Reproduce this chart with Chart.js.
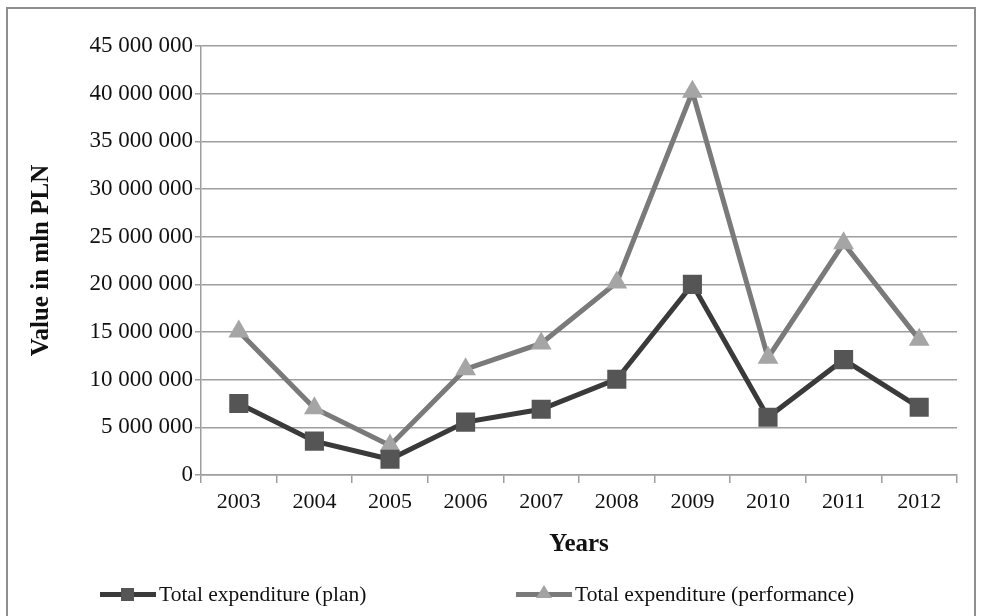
<!DOCTYPE html>
<html lang="en">
<head>
  <meta charset="UTF-8">
  <title>Total expenditure</title>
  <style>
    *{margin:0;padding:0;box-sizing:border-box;}
    body{width:981px;height:616px;background:#fff;overflow:hidden;position:relative;
      font-family:"Liberation Serif","Times New Roman",serif;color:#111;}
    #frame{position:absolute;left:6px;top:7px;width:970px;height:640px;border:2px solid #8e8e8e;}
    #box{position:absolute;left:0;top:0;width:981px;height:616px;}
    .leg{position:absolute;top:582px;height:24px;display:flex;align-items:center;font-size:21.5px;white-space:nowrap;}
    .leg .ln{position:relative;width:56px;height:5px;margin-right:3px;}
    .leg .sq{position:absolute;left:21px;top:-4px;width:13px;height:13px;background:#555;}
    .leg .tri{position:absolute;left:20px;top:-7px;width:0;height:0;
      border-left:8px solid transparent;border-right:8px solid transparent;border-bottom:13px solid #a3a3a3;}
  </style>
  <script src="https://cdn.jsdelivr.net/npm/chart.js@4.4.0/dist/chart.umd.min.js"></script>
</head>
<body>
  <div id="frame"></div>
  <div id="box"><canvas id="chart" width="981" height="616"></canvas></div>
  <div class="leg" style="left:100px"><span class="ln" style="background:#3a3a3a"><span class="sq"></span></span>Total expenditure (plan)</div>
  <div class="leg" style="left:516px"><span class="ln" style="background:#7a7a7a"><span class="tri"></span></span>Total expenditure (performance)</div>

  <script>
    const years = ["2003","2004","2005","2006","2007","2008","2009","2010","2011","2012"];
    const plan = [7500000, 3550000, 1650000, 5550000, 6900000, 10050000, 20000000, 6050000, 12100000, 7100000];
    const performance = [15050000, 7000000, 3100000, 11100000, 13800000, 20200000, 40200000, 12300000, 24300000, 14200000];
    const yMax = 45000000, yStep = 5000000;

    const serif = '"Liberation Serif","Times New Roman",serif';
    const gridCol = "#9e9e9e";
    const fmt = v => String(v).replace(/\B(?=(\d{3})+(?!\d))/g, " ");

    new Chart(document.getElementById("chart"), {
      type: "line",
      data: {
        labels: years,
        datasets: [
          {
            label: "Total expenditure (plan)",
            data: plan,
            borderColor: "#3a3a3a",
            borderWidth: 5,
            pointStyle: "rect",
            pointRadius: 13.5,
            pointBackgroundColor: "#555",
            pointBorderWidth: 0,
            tension: 0
          },
          {
            label: "Total expenditure (performance)",
            data: performance,
            borderColor: "#7a7a7a",
            borderWidth: 5,
            pointStyle: "triangle",
            pointRadius: 12,
            pointBackgroundColor: "#a5a5a5",
            pointBorderWidth: 0,
            tension: 0
          }
        ]
      },
      options: {
        responsive: false,
        animation: false,
        layout: { padding: { left: 0, top: 46, right: 24, bottom: 56 } },
        plugins: { legend: { display: false }, tooltip: { enabled: false } },
        scales: {
          x: {
            offset: true,
            grid: { offset: true, drawOnChartArea: false, drawTicks: true, tickLength: 8, color: gridCol, lineWidth: 1.5 },
            border: { color: gridCol, width: 1.5 },
            ticks: { color: "#111", font: { family: serif, size: 22 }, padding: 6, maxRotation: 0 },
            title: { display: true, text: "Years", color: "#111", font: { family: serif, size: 25, weight: "bold" }, padding: { top: 0, bottom: 0 } },
            afterFit: s => { s.height = 85; }
          },
          y: {
            min: 0, max: yMax,
            grid: { color: gridCol, lineWidth: 1.5, tickLength: 6 },
            border: { color: gridCol, width: 1.5 },
            ticks: { stepSize: yStep, color: "#111", font: { family: serif, size: 23 }, padding: 2, callback: v => fmt(v) },
            title: { display: true, text: "Value in mln PLN", color: "#111", font: { family: serif, size: 25, weight: "bold" }, padding: { top: 27, bottom: 0 } },
            afterFit: s => { s.width = 201; }
          }
        }
      }
    });
  </script>
</body>
</html>
